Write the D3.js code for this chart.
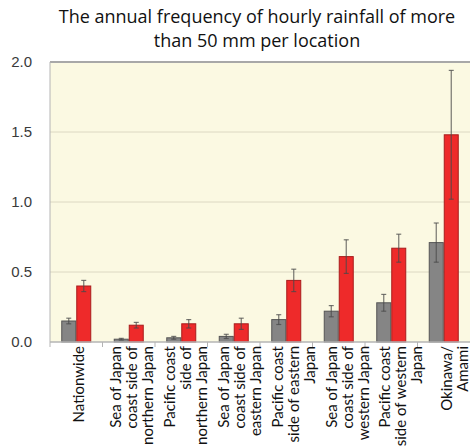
<!DOCTYPE html>
<html>
<head>
<meta charset="utf-8">
<script src="https://cdn.jsdelivr.net/npm/d3@7/dist/d3.min.js"></script>
<style>
  html, body { margin: 0; padding: 0; background: #ffffff; }
  svg { display: block; }
</style>
</head>
<body>
<svg id="chart" width="470" height="448"></svg>
<script>
// Annual frequency of hourly rainfall > 50 mm per location, by region
const categories = [
  "Nationwide",
  "Sea of Japan\ncoast side of\nnorthern Japan",
  "Pacific coast\nside of\nnorthern Japan",
  "Sea of Japan\ncoast side of\neastern Japan",
  "Pacific coast\nside of eastern\nJapan",
  "Sea of Japan\ncoast side of\nwestern Japan",
  "Pacific coast\nside of western\nJapan",
  "Okinawa/\nAmami"
];
const series1 = [0.15, 0.02, 0.03, 0.04, 0.16, 0.22, 0.28, 0.71];
const series1Err = [0.02, 0.006, 0.01, 0.015, 0.035, 0.04, 0.06, 0.14];
const series2 = [0.40, 0.12, 0.13, 0.13, 0.44, 0.61, 0.67, 1.48];
const series2Err = [0.04, 0.02, 0.03, 0.04, 0.08, 0.12, 0.10, 0.46];
const yTicks = [0, 0.5, 1.0, 1.5, 2.0];
const titleLines = [
  "The annual frequency of hourly rainfall of more",
  "than 50 mm per location"
];

const seriesKeys = ["s1", "s2"];
const rows = categories.map((c, i) => ({
  cat: c,
  s1: series1[i], s1e: series1Err[i],
  s2: series2[i], s2e: series2Err[i]
}));

const svg = d3.select("#chart");
const plot = { left: 50, right: 470, top: 62, bottom: 342 };

const x = d3.scaleBand().domain(categories).range([plot.left, plot.right]).padding(0);
const xLabel = d3.scaleBand().domain(categories).range([plot.left, plot.left + 8 * 53.8]).padding(0);
const bw = x.bandwidth();
const barW = 15;
const xs = d3.scaleBand().domain(seriesKeys).range([bw / 2 - barW, bw / 2 + barW]).padding(0);
const y = d3.scaleLinear().domain([0, 2]).range([plot.bottom, plot.top]);

const fill = { s1: "#858585", s2: "#ee2a2a" };
const edge = { s1: "#555555", s2: "#a81c1c" };

// plot background
svg.append("rect")
  .attr("x", plot.left).attr("y", plot.top)
  .attr("width", plot.right - plot.left).attr("height", plot.bottom - plot.top)
  .attr("fill", "#fbf9e2");

// gridlines
svg.append("g").selectAll("line")
  .data(yTicks.filter(t => t > 0 && t < 2))
  .join("line")
  .attr("x1", plot.left).attr("x2", plot.right)
  .attr("y1", d => y(d)).attr("y2", d => y(d))
  .attr("stroke", "#dcd8c2").attr("stroke-width", 1);

// top border
svg.append("line")
  .attr("x1", plot.left).attr("x2", plot.right)
  .attr("y1", y(2)).attr("y2", y(2))
  .attr("stroke", "#a8a8a8").attr("stroke-width", 2);

// bars
const groups = svg.append("g").selectAll("g")
  .data(rows).join("g")
  .attr("transform", d => `translate(${x(d.cat)},0)`);

groups.selectAll("rect")
  .data(d => seriesKeys.map(k => ({ key: k, v: d[k] })))
  .join("rect")
  .attr("x", d => xs(d.key) + 0.5)
  .attr("width", xs.bandwidth() - 1)
  .attr("y", d => y(d.v))
  .attr("height", d => y(0) - y(d.v))
  .attr("fill", d => fill[d.key])
  .attr("stroke", d => edge[d.key])
  .attr("stroke-width", 1);

// error bars
const errs = groups.selectAll("g.err")
  .data(d => seriesKeys.map(k => ({ key: k, v: d[k], e: d[k + "e"] })))
  .join("g").attr("class", "err")
  .attr("transform", d => `translate(${xs(d.key) + xs.bandwidth() / 2},0)`);
errs.append("line")
  .attr("x1", 0).attr("x2", 0)
  .attr("y1", d => y(d.v + d.e)).attr("y2", d => y(Math.max(0, d.v - d.e)))
  .attr("stroke", "#4a4a4a").attr("stroke-opacity", 0.75).attr("stroke-width", 1.2);
errs.selectAll("line.cap")
  .data(d => [d.v + d.e, Math.max(0, d.v - d.e)])
  .join("line").attr("class", "cap")
  .attr("x1", -2.5).attr("x2", 2.5)
  .attr("y1", d => y(d)).attr("y2", d => y(d))
  .attr("stroke", "#4a4a4a").attr("stroke-opacity", 0.75).attr("stroke-width", 1.2);

// axes
svg.append("line")
  .attr("x1", plot.left).attr("x2", plot.left)
  .attr("y1", plot.top).attr("y2", plot.bottom)
  .attr("stroke", "#b4b4b4").attr("stroke-width", 1);
svg.append("line")
  .attr("x1", plot.left).attr("x2", plot.right)
  .attr("y1", plot.bottom).attr("y2", plot.bottom)
  .attr("stroke", "#b4b4b4").attr("stroke-width", 1.5);
svg.append("g").selectAll("line")
  .data(categories)
  .join("line")
  .attr("x1", d => x(d)).attr("x2", d => x(d))
  .attr("y1", plot.bottom).attr("y2", plot.bottom + 5)
  .attr("stroke", "#b4b4b4").attr("stroke-width", 1);

// y tick labels
svg.append("g").selectAll("text")
  .data(yTicks).join("text")
  .attr("x", 32).attr("y", d => y(d))
  .attr("dy", "0.35em")
  .attr("text-anchor", "end")
  .attr("font-family", "Liberation Sans, Arial, sans-serif")
  .attr("font-size", 15)
  .attr("fill", "#3a3a3a")
  .text(d => d.toFixed(1));

// category labels, rotated, lines stacked across the category
const lineGap = 16;
const labels = svg.append("g").selectAll("g")
  .data(categories).join("g");
labels.each(function (c) {
  const lines = c.split("\n");
  const mid = xLabel(c) + xLabel.bandwidth() / 2 + 6.6;
  d3.select(this).selectAll("text")
    .data(lines).join("text")
    .attr("transform", (l, i) => `translate(${mid + (i - (lines.length - 1) / 2) * lineGap},346) rotate(-90)`)
    .attr("text-anchor", "end")
    .attr("font-family", "Lato, sans-serif")
    .attr("font-size", 15)
    .attr("fill", "#111")
    .text(l => l);
});

// title
svg.append("g").selectAll("text")
  .data(titleLines).join("text")
  .attr("x", 257).attr("y", (d, i) => 22.5 + i * 24)
  .attr("text-anchor", "middle")
  .attr("font-family", "Open Sans, sans-serif")
  .attr("font-size", 18)
  .attr("fill", "#111")
  .text(d => d);
</script>
</body>
</html>
